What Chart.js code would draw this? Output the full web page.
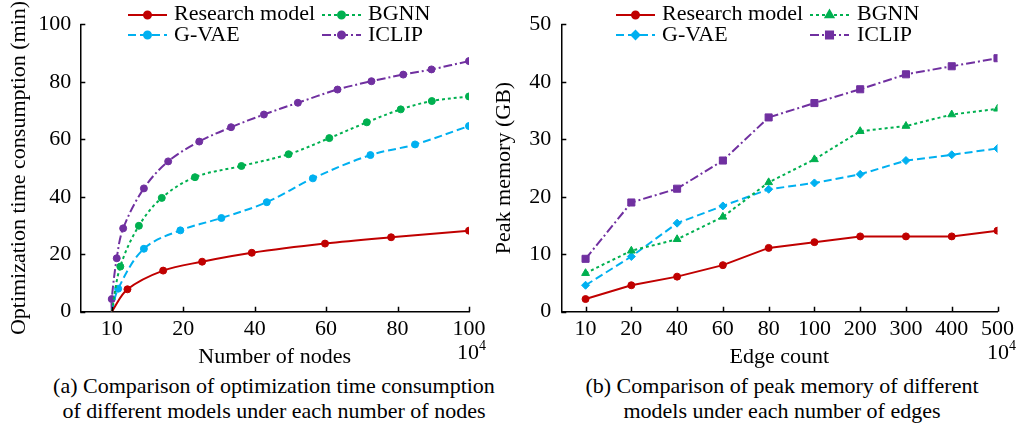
<!DOCTYPE html>
<html>
<head>
<meta charset="utf-8">
<script src="https://cdn.jsdelivr.net/npm/chart.js@4.4.1/dist/chart.umd.min.js"></script>
<style>
  html, body { margin: 0; padding: 0; background: #fff; }
  #fig { position: relative; width: 1018px; height: 430px; overflow: hidden; background: #fff;
         font-family: "Liberation Serif", "Times New Roman", serif; color: #000; }
  #fig canvas { position: absolute; top: 0; }
  .cap { position: absolute; font-size: 22px; line-height: 25px; text-align: center; white-space: nowrap; }
  .exp { position: absolute; font-size: 22px; line-height: 26px; white-space: nowrap; }
  .exp span { font-size: 14px; position: relative; top: -9px; }
</style>
</head>
<body>
<div id="fig">
  <canvas id="nodesChart" width="490" height="372" style="left:0"></canvas>
  <canvas id="edgesChart" width="528" height="372" style="left:490px"></canvas>
  <div class="exp" style="left:457px;top:339px">10<span>4</span></div>
  <div class="exp" style="left:987px;top:339px">10<span>4</span></div>
  <div class="cap" style="left:24px;width:500px;top:373px">(a) Comparison of optimization time consumption<br>of different models under each number of nodes</div>
  <div class="cap" style="left:532px;width:500px;top:373px">(b) Comparison of peak memory of different<br>models under each number of edges</div>
</div>
<script>
const FONT = '"Liberation Serif", "Times New Roman", serif';

// (a) Optimization time (min) against number of nodes (x 10^4)
const nodeTicks = [10, 20, 40, 60, 80, 100];
const researchNodes = [10, 12.2, 17.2, 25.3, 39.2, 59.7, 78.2, 100];
const researchTime  = [0, 7.8, 14.3, 17.4, 20.5, 23.7, 25.9, 28.2];
const bgnnNodes = [10, 11.2, 13.8, 17.0, 23.3, 36.3, 49.5, 60.9, 71.4, 80.9, 89.6, 100];
const bgnnTime  = [0, 15.7, 29.9, 39.6, 46.8, 50.7, 54.8, 60.4, 65.9, 70.4, 73.3, 74.9];
const gvaeNodes = [10, 10.9, 14.5, 19.6, 30.7, 43.4, 56.3, 72.4, 84.9, 100];
const gvaeTime  = [0, 8.0, 21.9, 28.3, 32.6, 38.1, 46.4, 54.5, 58.2, 64.6];
const iclipNodes = [10, 10, 10.7, 11.6, 14.5, 17.9, 24.5, 33.4, 42.6, 52.1, 63.2, 72.7, 81.6, 89.5, 100];
const iclipTime  = [0, 4.4, 18.6, 29.0, 42.9, 52.3, 59.2, 64.2, 68.6, 72.7, 77.3, 80.2, 82.5, 84.3, 87.2];

// (b) Peak memory (GB) against edge count (x 10^4)
const edgeTicks = [10, 20, 40, 60, 80, 100, 200, 300, 400, 500];
const researchMem = [2.2, 4.6, 6.1, 8.1, 11.1, 12.1, 13.1, 13.1, 13.1, 14.1];
const bgnnMem     = [6.7, 10.6, 12.6, 16.5, 22.5, 26.5, 31.4, 32.3, 34.3, 35.3];
const gvaeMem     = [4.6, 9.6, 15.4, 18.4, 21.3, 22.4, 23.9, 26.3, 27.3, 28.4];
const iclipMem    = [9.2, 19.0, 21.4, 26.3, 33.8, 36.3, 38.7, 41.3, 42.7, 44.1];

const seriesNames = ['Research model', 'BGNN', 'G-VAE', 'ICLIP'];
const seriesColors = ['#C00000', '#00B050', '#00B0F0', '#7030A0'];
const seriesDash = [[], [3, 3], [8, 4], [9, 3, 2, 3]];

// The node axis is evenly spaced between its tick labels, so a node count
// is placed piecewise-linearly between the neighbouring ticks.
function nodeToAxis(v) {
  for (let i = 0; i < nodeTicks.length - 1; i++) {
    const a = nodeTicks[i], b = nodeTicks[i + 1];
    if (v <= b || i === nodeTicks.length - 2) return i + (v - a) / (b - a);
  }
  return 0;
}

Chart.defaults.font.family = FONT;
Chart.defaults.font.size = 22;
Chart.defaults.color = '#000';

// Short tick marks pointing into the plot area
const inwardTicks = {
  id: 'inwardTicks',
  afterDatasetsDraw(chart) {
    const { ctx, chartArea: a } = chart;
    const xs = chart.scales.x, ys = chart.scales.y;
    ctx.save();
    ctx.strokeStyle = '#000';
    ctx.lineWidth = 1.5;
    ctx.beginPath();
    xs.ticks.forEach(t => {
      const px = Math.round(xs.getPixelForValue(t.value)) + 0.5;
      ctx.moveTo(px, a.bottom); ctx.lineTo(px, a.bottom - 5);
    });
    ys.ticks.forEach(t => {
      const py = Math.round(ys.getPixelForValue(t.value)) + 0.5;
      ctx.moveTo(a.left, py); ctx.lineTo(a.left + 5, py);
    });
    ctx.stroke();
    ctx.restore();
  }
};

// Two-column legend laid over the top of the plot
const gridLegend = {
  id: 'gridLegend',
  afterDraw(chart, args, opts) {
    const ctx = chart.ctx;
    ctx.save();
    chart.data.datasets.forEach((ds, i) => {
      const col = i % 2, row = Math.floor(i / 2);
      const x0 = opts.sampleX[col], x1 = x0 + opts.sampleW, y = opts.rowY[row];
      ctx.strokeStyle = ds.borderColor;
      ctx.lineWidth = ds.borderWidth;
      ctx.setLineDash(ds.borderDash || []);
      ctx.beginPath(); ctx.moveTo(x0, y); ctx.lineTo(x1, y); ctx.stroke();
      ctx.setLineDash([]);
      ctx.fillStyle = ds.borderColor;
      ctx.strokeStyle = ds.borderColor;
      Chart.helpers.drawPoint(ctx, {
        pointStyle: ds.pointStyle || 'circle',
        radius: opts.markerRadius[i],
        rotation: 0,
        borderWidth: 1
      }, (x0 + x1) / 2, y);
      ctx.fillStyle = '#000';
      ctx.font = '22px ' + FONT;
      ctx.textAlign = 'left';
      ctx.textBaseline = 'middle';
      ctx.fillText(seriesNames[i], opts.textX[col], opts.textRowY[row]);
    });
    ctx.restore();
  }
};

function axisTitle(text, padding) {
  return { display: true, text, font: { size: 22, family: FONT }, color: '#000', padding };
}

// ---- (a) nodes ----
const nodeSeries = [
  [researchNodes, researchTime],
  [bgnnNodes, bgnnTime],
  [gvaeNodes, gvaeTime],
  [iclipNodes, iclipTime]
];

new Chart(document.getElementById('nodesChart'), {
  type: 'line',
  data: {
    datasets: nodeSeries.map(([xs, ys], i) => ({
      label: seriesNames[i],
      data: xs.map((x, k) => ({ x: nodeToAxis(x), y: ys[k] })),
      borderColor: seriesColors[i],
      backgroundColor: seriesColors[i],
      pointBackgroundColor: seriesColors[i],
      pointBorderColor: seriesColors[i],
      borderWidth: 2,
      borderDash: seriesDash[i],
      pointStyle: 'circle',
      pointRadius: xs.map((x, k) => (k === 0 ? 0 : 3.5)),
      pointBorderWidth: 1,
      tension: 0.35,
      fill: false
    }))
  },
  options: {
    responsive: false,
    animation: false,
    events: [],
    layout: { padding: { top: 24.3, right: 21, left: 0, bottom: 0 } },
    scales: {
      x: {
        type: 'linear',
        min: -0.44,
        max: 5,
        afterBuildTicks: s => { s.ticks = nodeTicks.map((_, i) => ({ value: i })); },
        afterFit: s => { s.height = 60.3; },
        ticks: { autoSkip: false, maxRotation: 0, padding: 4,
                 callback: v => nodeTicks[Math.round(v)] },
        grid: { display: false, drawTicks: false },
        border: { display: true, color: '#000', width: 1.5 },
        title: axisTitle('Number of nodes', { top: 0, bottom: 2 })
      },
      y: {
        min: 0,
        max: 100,
        afterFit: s => { s.width = 80.3; },
        ticks: { stepSize: 20, padding: 9 },
        grid: { display: false, drawTicks: false },
        border: { display: true, color: '#000', width: 1.5 },
        title: axisTitle('Optimization time consumption (min)', { top: 6, bottom: 0 })
      }
    },
    plugins: {
      legend: { display: false },
      tooltip: { enabled: false },
      gridLegend: {
        sampleX: [128, 322], sampleW: 39, textX: [174, 368],
        rowY: [15, 35], textRowY: [14, 35], markerRadius: [3.5, 3.5, 3.5, 3.5]
      }
    }
  },
  plugins: [inwardTicks, gridLegend]
});

// ---- (b) edges ----
const edgeSeries = [researchMem, bgnnMem, gvaeMem, iclipMem];
const edgeStyles = ['circle', 'triangle', 'rectRot', 'rect'];
const edgeRadius = [3.5, 4.5, 4, 5];

new Chart(document.getElementById('edgesChart'), {
  type: 'line',
  data: {
    datasets: edgeSeries.map((ys, i) => ({
      label: seriesNames[i],
      data: ys.map((y, k) => ({ x: k, y })),
      borderColor: seriesColors[i],
      backgroundColor: seriesColors[i],
      pointBackgroundColor: seriesColors[i],
      pointBorderColor: seriesColors[i],
      borderWidth: 2,
      borderDash: seriesDash[i],
      pointStyle: edgeStyles[i],
      pointRadius: edgeRadius[i],
      pointBorderWidth: 1,
      tension: 0,
      fill: false
    }))
  },
  options: {
    responsive: false,
    animation: false,
    events: [],
    layout: { padding: { top: 24.3, right: 18, left: 0, bottom: 0 } },
    scales: {
      x: {
        type: 'linear',
        min: -0.53,
        max: 9,
        afterBuildTicks: s => { s.ticks = edgeTicks.map((_, i) => ({ value: i })); },
        afterFit: s => { s.height = 60.3; },
        ticks: { autoSkip: false, maxRotation: 0, padding: 4,
                 callback: v => edgeTicks[Math.round(v)] },
        grid: { display: false, drawTicks: false },
        border: { display: true, color: '#000', width: 1.5 },
        title: axisTitle('Edge count', { top: 0, bottom: 2 })
      },
      y: {
        min: 0,
        max: 50,
        afterFit: s => { s.width = 71.3; },
        ticks: { stepSize: 10, padding: 10 },
        grid: { display: false, drawTicks: false },
        border: { display: true, color: '#000', width: 1.5 },
        title: axisTitle('Peak memory (GB)', { top: 1, bottom: 0 })
      }
    },
    plugins: {
      legend: { display: false },
      tooltip: { enabled: false },
      gridLegend: {
        sampleX: [126, 320], sampleW: 39, textX: [172, 367],
        rowY: [15, 35], textRowY: [14, 35], markerRadius: edgeRadius
      }
    }
  },
  plugins: [inwardTicks, gridLegend]
});
</script>
</body>
</html>
